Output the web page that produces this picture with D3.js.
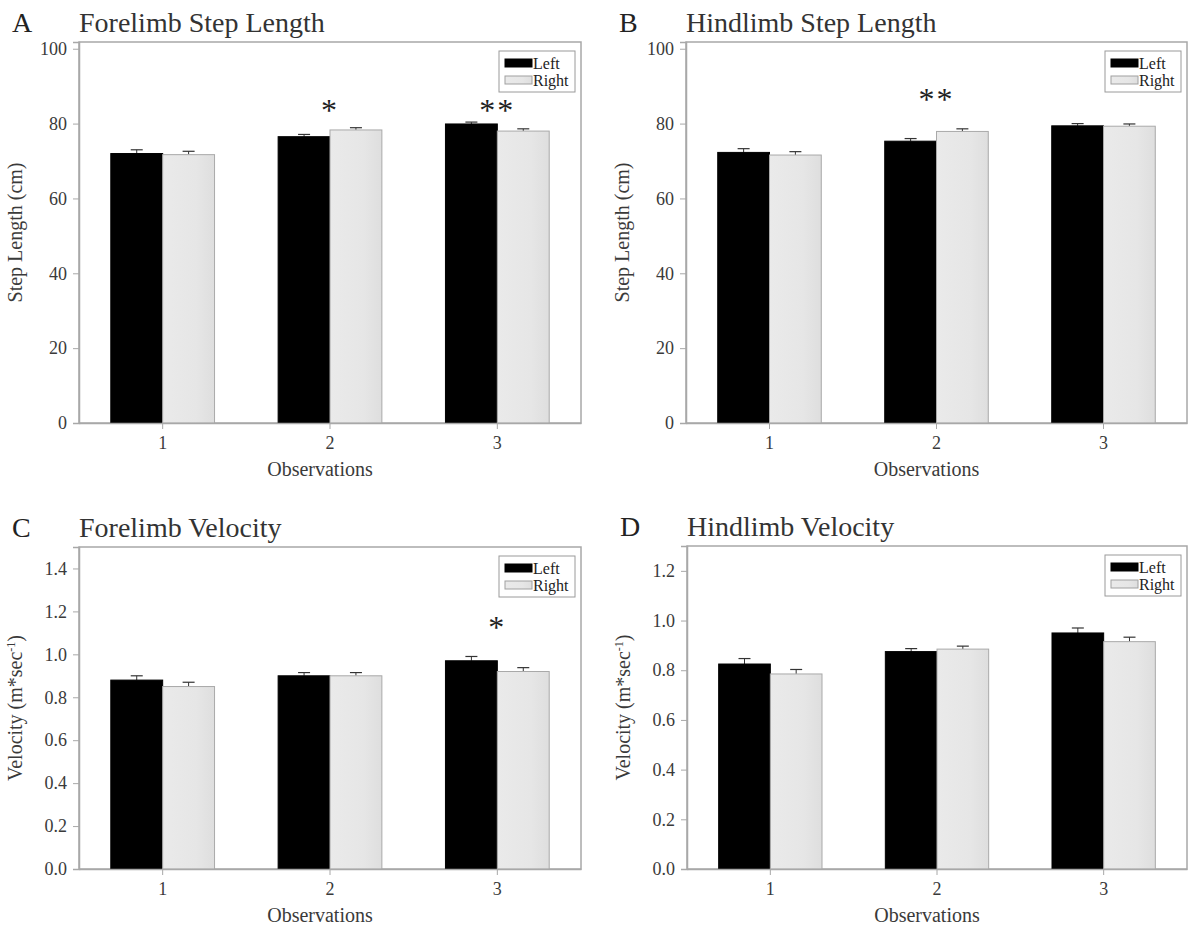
<!DOCTYPE html>
<html><head><meta charset="utf-8">
<script src="https://cdn.jsdelivr.net/npm/d3@7/dist/d3.min.js"></script>
<style>
body{margin:0;background:#fff;}
svg text{font-family:"Liberation Serif","Times New Roman",serif;}
</style></head>
<body>
<svg id="chart" width="1195" height="930"></svg>
<script>
// ---- data ----
const categories = ["1", "2", "3"];
const seriesNames = ["Left", "Right"];

const foreStepLeft = [72.0, 76.5, 79.9];
const foreStepLeftErr = [1.0, 0.6, 0.5];
const foreStepRight = [71.7, 78.3, 78.0];
const foreStepRightErr = [0.9, 0.6, 0.6];

const hindStepLeft = [72.3, 75.3, 79.4];
const hindStepLeftErr = [1.0, 0.7, 0.6];
const hindStepRight = [71.6, 77.9, 79.3];
const hindStepRightErr = [0.9, 0.7, 0.6];

const foreVelLeft = [0.88, 0.90, 0.97];
const foreVelLeftErr = [0.02, 0.015, 0.02];
const foreVelRight = [0.85, 0.90, 0.92];
const foreVelRightErr = [0.02, 0.015, 0.018];

const hindVelLeft = [0.825, 0.875, 0.95];
const hindVelLeftErr = [0.022, 0.012, 0.02];
const hindVelRight = [0.785, 0.885, 0.915];
const hindVelRightErr = [0.018, 0.012, 0.018];

const stepTicks = [0, 20, 40, 60, 80, 100];
const foreVelTicks = [0.0, 0.2, 0.4, 0.6, 0.8, 1.0, 1.2, 1.4];
const hindVelTicks = [0.0, 0.2, 0.4, 0.6, 0.8, 1.0, 1.2];

// significance markers: [category, label, y-value]
const foreStepStars = [["2", "*", 84.5], ["3", "**", 84.5]];
const hindStepStars = [["2", "**", 87.5]];
const foreVelStars = [["3", "*", 1.14]];
const hindVelStars = [];

const panels = [
  {letter:"A", title:"Forelimb Step Length", ylabel:"Step Length (cm)", sup:null,
   left:foreStepLeft, leftErr:foreStepLeftErr, right:foreStepRight, rightErr:foreStepRightErr,
   ticks:stepTicks, ymax:101.8, fmt:d3.format("d"), stars:foreStepStars,
   x0:79, x1:581, y0:42, y1:423},
  {letter:"B", title:"Hindlimb Step Length", ylabel:"Step Length (cm)", sup:null,
   left:hindStepLeft, leftErr:hindStepLeftErr, right:hindStepRight, rightErr:hindStepRightErr,
   ticks:stepTicks, ymax:101.8, fmt:d3.format("d"), stars:hindStepStars,
   x0:686, x1:1187, y0:42, y1:423},
  {letter:"C", title:"Forelimb Velocity", ylabel:"Velocity (m*sec", sup:"-1",
   left:foreVelLeft, leftErr:foreVelLeftErr, right:foreVelRight, rightErr:foreVelRightErr,
   ticks:foreVelTicks, ymax:1.5, fmt:d3.format(".1f"), stars:foreVelStars,
   x0:79, x1:581, y0:547, y1:869},
  {letter:"D", title:"Hindlimb Velocity", ylabel:"Velocity (m*sec", sup:"-1",
   left:hindVelLeft, leftErr:hindVelLeftErr, right:hindVelRight, rightErr:hindVelRightErr,
   ticks:hindVelTicks, ymax:1.3, fmt:d3.format(".1f"), stars:hindVelStars,
   x0:687, x1:1187, y0:546, y1:869}
];

const svg = d3.select("#chart");
const defs = svg.append("defs");
const grad = defs.append("linearGradient").attr("id","grayGrad")
  .attr("x1","0%").attr("x2","100%").attr("y1","0%").attr("y2","0%");
grad.append("stop").attr("offset","0%").attr("stop-color","#eaeaea");
grad.append("stop").attr("offset","65%").attr("stop-color","#e6e6e6");
grad.append("stop").attr("offset","100%").attr("stop-color","#dedede");

const axisColor = "#a8a8a8";
const textColor = "#3a3a3a";

panels.forEach(p => {
  const g = svg.append("g");
  const x = d3.scaleBand().domain(categories).range([p.x0, p.x1]).padding(0);
  const bw = x.bandwidth();
  const xs = d3.scaleBand().domain(seriesNames).range([bw*0.19, bw*0.81]).padding(0);
  const y = d3.scaleLinear().domain([0, p.ymax]).range([p.y1, p.y0]);

  // frame
  g.append("rect").attr("x", p.x0).attr("y", p.y0)
    .attr("width", p.x1 - p.x0).attr("height", p.y1 - p.y0)
    .attr("fill","none").attr("stroke", axisColor).attr("stroke-width",1.5);

  // bars
  const rows = categories.map((c,i) => ({cat:c, vals:[
     {s:"Left", v:p.left[i], e:p.leftErr[i]},
     {s:"Right", v:p.right[i], e:p.rightErr[i]}]}));
  const grp = g.selectAll("g.cat").data(rows).enter().append("g")
     .attr("transform", d => `translate(${x(d.cat)},0)`);
  grp.selectAll("g.err").data(d => d.vals).enter().append("g").each(function(d){
     const cx = xs(d.s) + xs.bandwidth()/2;
     const gg = d3.select(this);
     gg.append("line").attr("x1",cx).attr("x2",cx).attr("y1",y(d.v)).attr("y2",y(d.v+d.e))
       .attr("stroke","#333").attr("stroke-width",1);
     gg.append("line").attr("x1",cx-6).attr("x2",cx+6).attr("y1",y(d.v+d.e)).attr("y2",y(d.v+d.e))
       .attr("stroke","#333").attr("stroke-width",1.2);
  });
  grp.selectAll("rect.bar").data(d => d.vals).enter().append("rect")
     .attr("x", d => xs(d.s)).attr("width", xs.bandwidth())
     .attr("y", d => y(d.v)).attr("height", d => y(0) - y(d.v))
     .attr("fill", d => d.s === "Left" ? "#000" : "url(#grayGrad)")
     .attr("stroke", d => d.s === "Left" ? "#000" : "#a9a9a9")
     .attr("stroke-width", 1);

  // y axis
  const ya = d3.axisLeft(y).tickValues(p.ticks).tickFormat(p.fmt).tickSize(6).tickPadding(6);
  const yg = g.append("g").attr("transform",`translate(${p.x0},0)`).call(ya);
  yg.select(".domain").attr("stroke", axisColor).attr("stroke-width",1.5);
  yg.selectAll(".tick line").attr("stroke", axisColor);
  yg.selectAll(".tick text").attr("fill", textColor).style("font-size","18px")
    .style("font-family","Liberation Serif");

  // x axis
  const xa = d3.axisBottom(x).tickSize(6).tickPadding(7).tickSizeOuter(0);
  const xg = g.append("g").attr("transform",`translate(0,${p.y1})`).call(xa);
  xg.select(".domain").attr("stroke", axisColor).attr("stroke-width",1.5);
  xg.selectAll(".tick line").attr("stroke", axisColor);
  xg.selectAll(".tick text").attr("fill", textColor).style("font-size","18px")
    .style("font-family","Liberation Serif");

  // x label
  g.append("text").attr("x", (p.x0+p.x1)/2 - 10).attr("y", p.y1 + 53)
    .attr("text-anchor","middle").attr("fill", textColor).style("font-size","20px")
    .text("Observations");

  // y label
  const yl = g.append("text")
    .attr("transform", `translate(${p.x0 - 57},${(p.y0+p.y1)/2}) rotate(-90)`)
    .attr("text-anchor","middle").attr("fill", textColor).style("font-size","20px");
  yl.append("tspan").text(p.ylabel);
  if (p.sup) {
    yl.append("tspan").attr("dy",-7).style("font-size","12px").text(p.sup);
    yl.append("tspan").attr("dy",7).text(")");
  }

  // panel letter & title
  g.append("text").attr("x", p.x0 - 67).attr("y", p.y0 - 10)
    .attr("fill","#222").style("font-size","28px").text(p.letter);
  g.append("text").attr("x", p.x0).attr("y", p.y0 - 10)
    .attr("fill","#333").style("font-size","28px").text(p.title);

  // legend
  const lg = g.append("g").attr("transform", `translate(${p.x1 - 82},${p.y0 + 9})`);
  lg.append("rect").attr("x",0).attr("y",0).attr("width",76).attr("height",41)
    .attr("fill","#fff").attr("stroke","#9a9a9a").attr("stroke-width",1);
  seriesNames.forEach((s,i) => {
    lg.append("rect").attr("x",6).attr("y",8 + i*17).attr("width",27).attr("height",8)
      .attr("fill", s === "Left" ? "#000" : "url(#grayGrad)")
      .attr("stroke", s === "Left" ? "#000" : "#a0a0a0");
    lg.append("text").attr("x",34).attr("y",18 + i*17).attr("fill","#222")
      .style("font-size","16px").text(s);
  });

  // stars
  p.stars.forEach(st => {
    g.append("text").attr("x", x(st[0]) + bw/2).attr("y", y(st[2]) + 14)
      .attr("text-anchor","middle").attr("fill","#222")
      .style("font-size","32px").style("letter-spacing","2px").text(st[1]);
  });
});
</script>
</body></html>
